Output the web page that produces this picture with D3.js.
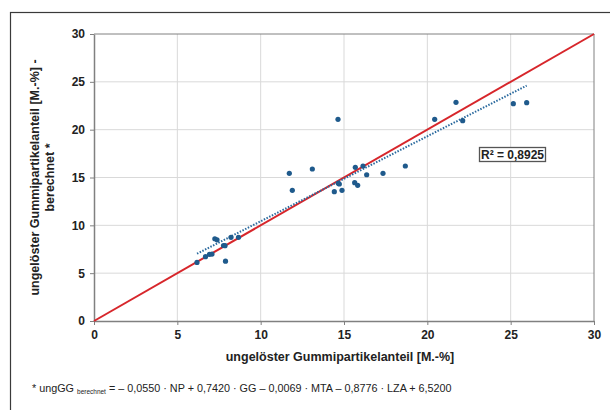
<!DOCTYPE html>
<html><head><meta charset="utf-8">
<script src="https://cdn.jsdelivr.net/npm/d3@7"></script>
<style>body{margin:0;background:#fff}svg{display:block}text{font-family:"Liberation Sans",Arial,sans-serif}</style>
</head><body>
<svg id="c" width="610" height="410"></svg>
<script>
const xValues = [6.18,6.69,6.93,7.08,7.25,7.38,7.77,7.86,7.89,8.22,8.67,11.72,13.1,11.9,14.42,14.66,14.72,14.64,14.88,15.68,16.14,15.64,15.82,16.36,17.34,18.68,20.44,21.72,22.12,25.16,25.96];
const yValues = [6.12,6.72,6.97,7.0,8.6,8.48,7.89,7.87,6.25,8.75,8.75,15.44,15.89,13.66,13.52,14.39,14.32,21.08,13.66,16.06,16.2,14.46,14.18,15.29,15.44,16.2,21.08,22.86,20.94,22.72,22.82];
const tickValues = [0,5,10,15,20,25,30];
const rSquaredLabel = "R² = 0,8925";
const xTitle = "ungelöster Gummipartikelanteil [M.-%]";
const yTitleLines = ["ungelöster Gummipartikelanteil [M.-%] -", "berechnet *"];

const svg = d3.select("#c");
const L=94,R=594,T=34,B=321;
const x = d3.scaleLinear().domain([0,30]).range([L,R]);
const y = d3.scaleLinear().domain([0,30]).range([B,T]);

// outer frame
svg.append("rect").attr("x",10.5).attr("y",12.5).attr("width",640).attr("height",420)
  .attr("fill","none").attr("stroke","#3a3a3a").attr("stroke-width",1.2);

// grid
svg.append("g").selectAll("line.v").data(tickValues.slice(1,-1)).join("line")
  .attr("x1",d=>x(d)).attr("x2",d=>x(d)).attr("y1",T).attr("y2",B)
  .attr("stroke","#d9d9d9").attr("stroke-width",1);
svg.append("g").selectAll("line.h").data(tickValues.slice(1,-1)).join("line")
  .attr("y1",d=>y(d)).attr("y2",d=>y(d)).attr("x1",L).attr("x2",R)
  .attr("stroke","#d9d9d9").attr("stroke-width",1);

// plot frame top/right
svg.append("line").attr("x1",L).attr("x2",R).attr("y1",T).attr("y2",T).attr("stroke","#808080");
svg.append("line").attr("x1",R).attr("x2",R).attr("y1",T).attr("y2",B).attr("stroke","#808080");

// axes
const xAxis = svg.append("g").attr("transform",`translate(0,${B})`)
  .call(d3.axisBottom(x).tickValues(tickValues).tickSize(4).tickSizeOuter(0).tickFormat(d3.format("d")));
const yAxis = svg.append("g").attr("transform",`translate(${L},0)`)
  .call(d3.axisLeft(y).tickValues(tickValues).tickSize(4).tickSizeOuter(0).tickFormat(d3.format("d")));
[xAxis,yAxis].forEach(a=>{
  a.select(".domain").attr("stroke","#808080").attr("stroke-width",1.5);
  a.selectAll(".tick line").attr("stroke","#808080");
  a.selectAll(".tick text").attr("fill","#222").attr("font-size",12).attr("font-weight","bold")
   .attr("font-family","Liberation Sans, Arial, sans-serif");
});
xAxis.selectAll(".tick text").attr("dy","0.95em");
yAxis.selectAll(".tick text").attr("x",-9);

// red 1:1 line
svg.append("line").attr("x1",x(0)).attr("y1",y(0)).attr("x2",x(30)).attr("y2",y(30))
  .attr("stroke","#d7262b").attr("stroke-width",2);

// regression line
const n=xValues.length;
const mx=d3.mean(xValues), my=d3.mean(yValues);
let sxy=0,sxx=0; for(let i=0;i<n;i++){sxy+=(xValues[i]-mx)*(yValues[i]-my); sxx+=(xValues[i]-mx)**2;}
const slope=sxy/sxx, icpt=my-slope*mx;
const [x0,x1]=d3.extent(xValues);
svg.append("line").attr("x1",x(x0)).attr("y1",y(icpt+slope*x0)).attr("x2",x(x1)).attr("y2",y(icpt+slope*x1))
  .attr("stroke","#2b6a9e").attr("stroke-width",2).attr("stroke-dasharray","1.5,1.5");

// points
svg.append("g").selectAll("circle").data(xValues.map((v,i)=>[v,yValues[i]])).join("circle")
  .attr("cx",d=>x(d[0])).attr("cy",d=>y(d[1])).attr("r",2.6).attr("fill","#1f5a8c");

// R2 box
const bx=479.5,by=147.5;
svg.append("rect").attr("x",bx).attr("y",by).attr("width",66).attr("height",14)
  .attr("fill","#fff").attr("stroke","#555").attr("stroke-width",1.3);
svg.append("text").attr("x",bx+33).attr("y",by+11.5).attr("text-anchor","middle")
  .attr("font-size",12).attr("font-weight","bold").attr("fill","#222").text(rSquaredLabel);

// axis titles
svg.append("text").attr("x",(L+R)/2-4).attr("y",361).attr("text-anchor","middle")
  .attr("font-size",12.5).attr("font-weight","bold").attr("fill","#222").text(xTitle);
const yt = svg.append("text").attr("transform",`translate(39,${(T+B)/2}) rotate(-90)`)
  .attr("text-anchor","middle").attr("font-size",12.5).attr("font-weight","bold").attr("fill","#222");
yTitleLines.forEach((s,i)=>yt.append("tspan").attr("x",0).attr("dy",i?15:0).text(s));

// footnote
const fn = svg.append("text").attr("x",32).attr("y",392).attr("font-size",10.8).attr("fill","#222");
fn.append("tspan").text("* ungGG ");
fn.append("tspan").attr("font-size",6.5).attr("dy",1.5).text("berechnet");
fn.append("tspan").attr("dy",-1.5).text(" = – 0,0550 · NP + 0,7420 · GG – 0,0069 · MTA – 0,8776 · LZA + 6,5200");
</script>
</body></html>
